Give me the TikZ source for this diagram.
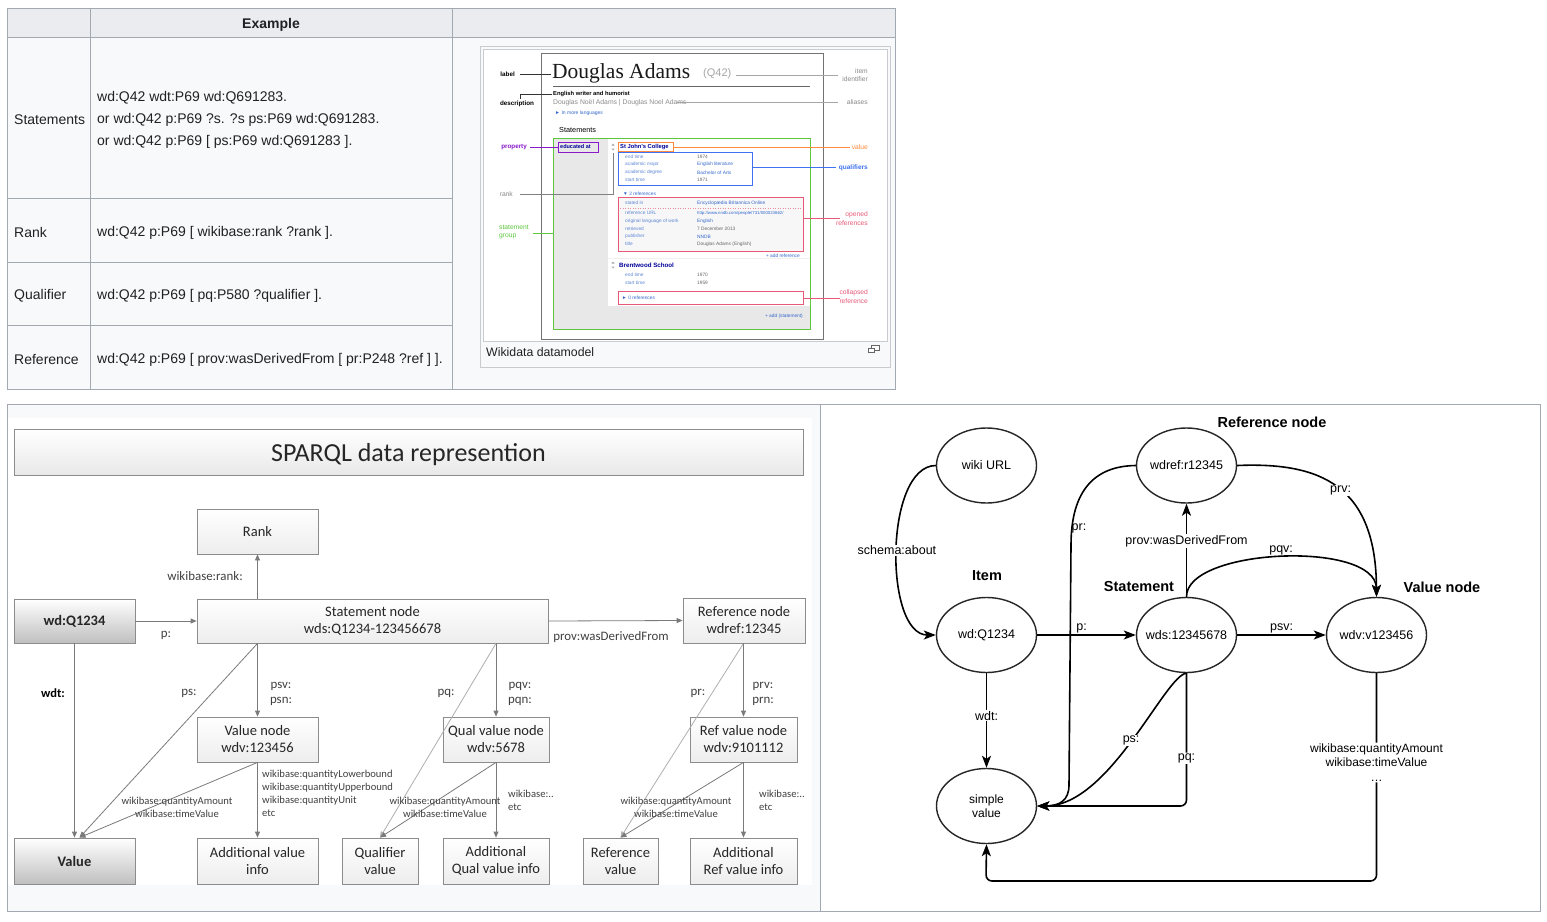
\documentclass[tikz,border=0pt]{standalone}
\usepackage{fontspec}
\setmainfont{Liberation Sans}
\newfontfamily\calibfont{Carlito}
\newfontfamily\dougserif{Liberation Serif}
\usetikzlibrary{shapes.geometric,arrows.meta,calc}
\definecolor{tblborder}{HTML}{A2A9B1}
\definecolor{tblbg}{HTML}{F8F9FA}
\definecolor{tblhead}{HTML}{EAECF0}
\definecolor{txtc}{HTML}{202122}
\definecolor{thumbb}{HTML}{C8CCD1}
\definecolor{wpurple}{HTML}{8A19C9}
\definecolor{worange}{HTML}{FF8A3D}
\definecolor{wblue}{HTML}{3E72F0}
\definecolor{wred}{HTML}{E65A78}
\definecolor{wgreen}{HTML}{5CC63C}
\definecolor{wlink}{HTML}{3366CC}
\definecolor{wgrey}{HTML}{888888}
\definecolor{boxline}{HTML}{8C8C8C}
\definecolor{sline}{HTML}{7A7A7A}
\definecolor{slabc}{HTML}{404040}
\newcommand{\myfs}[2]{\fontsize{#1}{#2}\selectfont}
\tikzset{
  tbltext/.style={anchor=west, text=txtc, font=\myfs{14}{16}, inner sep=0, yshift=-1.5pt},
  thl/.style={anchor=west, inner sep=0, font=\myfs{4.8}{5}},
  thlab/.style={inner sep=0, font=\myfs{6.7}{7}},
  sbox/.style={draw=boxline, line width=0.8pt, top color=white, bottom color=black!7, font=\calibfont\myfs{14.5}{17}, align=center, inner sep=0, text=black!85},
  sboxdark/.style={sbox, top color=white, bottom color=black!25, font=\calibfont\bfseries\myfs{14.5}{17}},
  sarrow/.style={draw=sline, line width=0.8pt, -{Triangle[length=6pt,width=5pt]}},
  slab/.style={font=\calibfont\myfs{12.9}{14}, text=slabc, inner sep=0},
  sslab/.style={font=\calibfont\myfs{10.6}{11}, text=slabc, inner sep=0},
  ell/.style={ellipse, draw=black!85, line width=1.4pt, minimum width=100pt, minimum height=75pt, font=\myfs{12.5}{15}, align=center, inner xsep=-14pt, inner ysep=0pt},
  garrow/.style={draw=black, line width=1.6pt, -{Stealth[length=12pt,width=9pt,inset=3pt]}},
  glab/.style={font=\myfs{12.5}{15}, inner sep=1pt, align=center},
  gbold/.style={font=\bfseries\myfs{14.5}{16}, inner sep=0}
}
\begin{document}
\begin{tikzpicture}[x=1pt,y=-1pt]
\useasboundingbox (0,0) rectangle (1547,921);
\fill[white] (0,0) rectangle (1547,921);

% ================= TABLE =================
\fill[tblbg] (7,8) rectangle (895,389);
\fill[tblhead] (7,8) rectangle (895,37);
\draw[tblborder] (7,8) rectangle (895,389);
\draw[tblborder] (7,37) -- (895,37);
\draw[tblborder] (90,8) -- (90,389);
\draw[tblborder] (452,8) -- (452,389);
\draw[tblborder] (7,198) -- (452,198);
\draw[tblborder] (7,262) -- (452,262);
\draw[tblborder] (7,325) -- (452,325);
\node[tbltext, anchor=center, font=\bfseries\myfs{14}{16}] (thEx) at (271,23) {Example};
\node[tbltext] (rS) at (14,118) {Statements};
\node[tbltext] (rS1) at (97,96) {wd:Q42 wdt:P69 wd:Q691283.};
\node[tbltext] (rS2) at (97,118) {or wd:Q42 p:P69 ?s. ?s ps:P69 wd:Q691283.};
\node[tbltext] (rS3) at (97,140) {or wd:Q42 p:P69 [ ps:P69 wd:Q691283 ].};
\node[tbltext] (rR) at (14,231) {Rank};
\node[tbltext] (rR1) at (97,231) {wd:Q42 p:P69 [ wikibase:rank ?rank ].};
\node[tbltext] (rQ) at (14,294) {Qualifier};
\node[tbltext] (rQ1) at (97,294) {wd:Q42 p:P69 [ pq:P580 ?qualifier ].};
\node[tbltext] (rF) at (14,358) {Reference};
\node[tbltext] (rF1) at (97,358) {wd:Q42 p:P69 [ prov:wasDerivedFrom [ pr:P248 ?ref ] ].};

% ================= THUMBNAIL =================
\filldraw[fill=tblbg, draw=thumbb] (480,46) rectangle (890,367);
\filldraw[fill=white, draw=thumbb] (483,49) rectangle (887,341);
\node[tbltext, font=\myfs{12.3}{14}] (cap) at (486,351) {Wikidata datamodel};
\filldraw[fill=white, draw=black!60, line width=0.7pt] (871,345) rectangle (879,350);
\filldraw[fill=white, draw=black!60, line width=0.7pt] (868,348) rectangle (874,352.5);

\draw[black!55, line width=0.8pt] (541,53) rectangle (823,339);
\fill[black!9] (553,138) rectangle (810,329);
\fill[white] (608,138) rectangle (810,306);
\draw[black!6] (608,258) -- (810,258);
\draw[wgreen, line width=1pt] (553,138) rectangle (810,329);

\node[thlab, font=\bfseries\myfs{6.3}{7}, anchor=east] (tlabel) at (515,74) {label};
\draw[black!80, line width=0.7pt] (520,74) -- (551,74);
\node[thlab, anchor=west, font=\dougserif\myfs{21.5}{22}, text=black!90, yshift=-1.5pt] (tda) at (552,72) {Douglas Adams};
\node[thlab, anchor=west, font=\myfs{11}{12}, text=black!35] (tq42) at (703,73.5) {(Q42)};
\draw[black!35, line width=0.7pt] (736,75) -- (838,75);
\node[thlab, anchor=east, text=wgrey] at (868,71) {item};
\node[thlab, anchor=east, text=wgrey] at (868,79) {identifier};
\draw[black!60, line width=0.6pt] (553,86) -- (810,86);
\node[thlab, font=\bfseries\myfs{6.3}{7}] (tdesc) at (517,104) {description};
\draw[black!80, line width=0.7pt] (520,98.5) -- (520,94.5) -- (552,94.5);
\node[thl, font=\bfseries\myfs{5.8}{6}] at (553,94.5) {English writer and humorist};
\node[thl, font=\myfs{6.8}{7}, text=black!45] at (553,102.5) {Douglas Noël Adams | Douglas Noel Adams};
\draw[black!35, line width=0.7pt] (677,102.3) -- (838,102.3);
\node[thlab, anchor=east, text=wgrey] at (868,102.3) {aliases};
\node[thl, font=\myfs{5}{5}, text=wlink] at (555,113) {► In more languages};
\node[thl, font=\myfs{7.3}{8}] at (559,130) {Statements};

% property
\node[thlab, anchor=east, text=wpurple, font=\bfseries\myfs{6.3}{7}] at (527,147) {property};
\draw[wpurple, line width=0.8pt] (530,147) -- (558,147);
\node[thl, font=\bfseries\myfs{5.5}{6}, text=blue!60!black] at (560,147) {educated at};
\draw[wpurple, line width=1pt] (558,142.5) rectangle (598,152);
% rank markers
\fill[black!35] (611.5,145.5) -- (614.5,145.5) -- (613,143.5) -- cycle;
\fill[black!35] (611.5,148.5) -- (614.5,148.5) -- (613,150.5) -- cycle;
\fill[black!35] (611.5,263.5) -- (614.5,263.5) -- (613,261.5) -- cycle;
\fill[black!35] (611.5,266.5) -- (614.5,266.5) -- (613,268.5) -- cycle;
% value
\node[thl, font=\bfseries\myfs{5.8}{6}, text=blue!60!black] at (620,146.7) {St John's College};
\draw[worange, line width=1pt] (618.5,142) rectangle (673,151.5);
\draw[worange, line width=0.8pt] (673,147) -- (850,147);
\node[thlab, anchor=east, text=worange] at (868,147) {value};
% qualifiers
\draw[wblue, line width=1pt] (618,152.7) rectangle (752,185);
\draw[wblue, line width=1.2pt] (752,167.7) -- (836,167.7);
\node[thlab, anchor=east, text=wblue, font=\bfseries\myfs{6.5}{7}] at (868,168) {qualifiers};
\node[thl, text=wlink!80] at (625,156.5) {end time};
\node[thl, text=black!60] at (697,156.5) {1974};
\node[thl, text=wlink!80] at (625,164.5) {academic major};
\node[thl, text=wlink] at (697,164.5) {English literature};
\node[thl, text=wlink!80] at (625,172.5) {academic degree};
\node[thl, text=wlink] at (697,172.5) {Bachelor of Arts};
\node[thl, text=wlink!80] at (625,179.5) {start time};
\node[thl, text=black!60] at (697,179.5) {1971};
% rank
\node[thlab, anchor=east, text=wgrey] at (513,194) {rank};
\draw[black!50, line width=0.7pt] (520,194) -- (613,194) -- (613,153);
\node[thl, text=wlink] at (623,194) {▼ 2 references};
% opened references
\filldraw[fill=black!3, draw=wred, line width=1pt] (618,197.7) rectangle (803,251.7);
\draw[wred, line width=0.8pt] (803,218.7) -- (840,218.7);
\node[thlab, anchor=east, text=wred] at (868,215) {opened};
\node[thlab, anchor=east, text=wred] at (868,223) {references};
\draw[wred!70, dotted, line width=0.5pt] (620,208) -- (801,208);
\node[thl, text=wlink!80] at (625,203) {stated in};
\node[thl, text=wlink] at (697,203) {Encyclopædia Britannica Online};
\node[thl, text=wlink!80] at (625,213) {reference URL};
\node[thl, text=wlink, font=\myfs{4.3}{5}] at (697,213) {http://www.nndb.com/people/731/000023662/};
\node[thl, text=wlink!80] at (625,221) {original language of work};
\node[thl, text=wlink] at (697,221) {English};
\node[thl, text=wlink!80] at (625,229) {retrieved};
\node[thl, text=black!60] at (697,229) {7 December 2013};
\node[thl, text=wlink!80] at (625,236.5) {publisher};
\node[thl, text=wlink] at (697,236.5) {NNDB};
\node[thl, text=wlink!80] at (625,244) {title};
\node[thl, text=black!60] at (697,244) {Douglas Adams (English)};
\node[thl, anchor=east, text=wlink] at (800,256) {+ add reference};
% second statement
\node[thl, font=\bfseries\myfs{6.2}{7}, text=blue!60!black] at (619,265) {Brentwood School};
\node[thl, text=wlink!80] at (625,275) {end time};
\node[thl, text=black!60] at (697,275) {1970};
\node[thl, text=wlink!80] at (625,283) {start time};
\node[thl, text=black!60] at (697,283) {1959};
\draw[wred, line width=1pt] (618,291.7) rectangle (803,304.3);
\draw[wred, line width=0.8pt] (803,298) -- (840,298);
\node[thlab, anchor=east, text=wred] at (868,293) {collapsed};
\node[thlab, anchor=east, text=wred] at (868,301) {reference};
\node[thl, text=wlink] at (622,298) {► 0 references};
\node[thl, anchor=east, text=wlink] at (803,316) {+ add (statement)};
% statement group
\node[thlab, anchor=west, text=wgreen] at (499,227) {statement};
\node[thlab, anchor=west, text=wgreen] at (499,236) {group};
\draw[wgreen, line width=0.8pt] (533,233.7) -- (553,233.7);

% ================= BOTTOM PANEL =================
\fill[tblbg] (7,404) rectangle (1540,911);
\fill[white] (820,404) rectangle (1540,911);
\fill[white] (8,418) rectangle (812,885);
\draw[tblborder] (7,404) rectangle (1540,911);
\draw[tblborder] (820,404) -- (820,911);

% ---- SPARQL diagram ----
\node[sbox, top color=white, bottom color=black!9, minimum width=789pt, minimum height=46pt, font=\calibfont\myfs{26}{28}, text depth=0pt] (title) at (408.5,452) {SPARQL data represention};

\node[sbox, minimum width=121pt, minimum height=45pt] (rank) at (257.5,531.5) {Rank};
\node[sboxdark, minimum width=121pt, minimum height=44pt] (q1234) at (74.5,621) {wd:Q1234};
\node[sbox, minimum width=351pt, minimum height=44pt] (stmt) at (372.5,621) {Statement node\\wds:Q1234-123456678};
\node[sbox, minimum width=122pt, minimum height=45pt] (refn) at (744,620.5) {Reference node\\wdref:12345};
\node[sbox, minimum width=121pt, minimum height=45pt] (valn) at (257.5,739.5) {Value node\\wdv:123456};
\node[sbox, minimum width=106pt, minimum height=45pt] (qualn) at (496,739.5) {Qual value node\\wdv:5678};
\node[sbox, minimum width=107pt, minimum height=45pt] (refvn) at (743.5,739.5) {Ref value node\\wdv:9101112};
\node[sboxdark, minimum width=121pt, minimum height=46pt] (value) at (74.5,861) {Value};
\node[sbox, minimum width=121pt, minimum height=46pt] (addv) at (257.5,861) {Additional value\\info};
\node[sbox, minimum width=76pt, minimum height=46pt] (qualv) at (380,861) {Qualifier\\value};
\node[sbox, minimum width=106pt, minimum height=46pt] (addq) at (496,861) {Additional\\Qual value info};
\node[sbox, minimum width=75pt, minimum height=46pt] (refv) at (620.5,861) {Reference\\value};
\node[sbox, minimum width=107pt, minimum height=46pt] (addr) at (743.5,861) {Additional\\Ref value info};

\draw[sarrow] (q1234.east) -- (stmt.west);
\draw[sarrow] (stmt.north -| rank.south) -- (rank.south);
\draw[sarrow] (stmt.east) -- (refn.west);
\draw[sarrow] (q1234.south) -- (value.north);
\draw[sarrow] (stmt.south -| valn.north) -- ($(value.north)+(5,0)$);
\draw[sarrow] (stmt.south -| valn.north) -- (valn.north);
\draw[sarrow] (valn.south) -- ($(value.north)+(5,0)$);
\draw[sarrow] (valn.south) -- (addv.north);
\draw[sarrow, draw=sline!60] (stmt.south -| qualn.north) -- (qualv.north);
\draw[sarrow] (stmt.south -| qualn.north) -- (qualn.north);
\draw[sarrow] (qualn.south) -- (qualv.north);
\draw[sarrow] (qualn.south) -- (addq.north);
\draw[sarrow, draw=sline!60] (refn.south -| refvn.north) -- (refv.north);
\draw[sarrow] (refn.south -| refvn.north) -- (refvn.north);
\draw[sarrow] (refvn.south) -- (refv.north);
\draw[sarrow] (refvn.south) -- (addr.north);

\node[slab] at (166,635) {p:};
\node[slab] at (205,576) {wikibase:rank:};
\node[slab] at (611,637) {prov:wasDerivedFrom};
\node[slab, font=\calibfont\bfseries\myfs{12.5}{13}, text=black] at (53,693) {wdt:};
\node[slab] at (189,693) {ps:};
\node[slab] at (281,686) {psv:};
\node[slab] at (281,701) {psn:};
\node[slab] at (446,693) {pq:};
\node[slab] at (520,686) {pqv:};
\node[slab] at (520,701) {pqn:};
\node[slab] at (698,693) {pr:};
\node[slab] at (763,686) {prv:};
\node[slab] at (763,701) {prn:};
\node[sslab] at (177,802) {wikibase:quantityAmount};
\node[sslab] at (177,814) {wikibase:timeValue};
\node[sslab, anchor=west] at (262,775) {wikibase:quantityLowerbound};
\node[sslab, anchor=west] at (262,788) {wikibase:quantityUpperbound};
\node[sslab, anchor=west] at (262,801) {wikibase:quantityUnit};
\node[sslab, anchor=west] at (262,813) {etc};
\node[sslab] at (445,802) {wikibase:quantityAmount};
\node[sslab] at (445,814) {wikibase:timeValue};
\node[sslab, anchor=west] at (508,794) {wikibase:..};
\node[sslab, anchor=west] at (508,807) {etc};
\node[sslab] at (676,802) {wikibase:quantityAmount};
\node[sslab] at (676,814) {wikibase:timeValue};
\node[sslab, anchor=west] at (759,794) {wikibase:..};
\node[sslab, anchor=west] at (759,807) {etc};

% ---- RDF graph ----
\node[ell] (wikiurl) at (986.5,465.5) {wiki URL};
\node[ell] (wdref) at (1186.5,465.5) {wdref:r12345};
\node[ell] (wdq) at (986.5,635) {wd:Q1234};
\node[ell] (wds) at (1186.5,635) {wds:12345678};
\node[ell] (wdv) at (1376.5,635) {wdv:v123456};
\node[ell, font=\myfs{12}{14}] (simple) at (986.5,806) {simple\\value};
\coordinate (bot) at (986,881);

\draw[garrow] (wdq.east) -- node[glab, above, pos=0.45] {p:} (wds.west);
\draw[garrow] (wds.east) -- node[glab, above] {psv:} (wdv.west);
\draw[garrow] (wds.north) -- node[glab, fill=white, pos=0.6] {prov:wasDerivedFrom} (wdref.south);
\draw[garrow] (wds.north) .. controls (1186,548) and (1376,540) .. node[glab, above, pos=0.5] {pqv:} (wdv.north);
\draw[garrow] (wdref.east) .. controls (1320,462) and (1376,485) .. node[glab, fill=white, pos=0.52] {prv:} (wdv.north);
\draw[garrow] (wikiurl.west) .. controls (884,466) and (884,635) .. node[glab, fill=white] {schema:about} (wdq.west);
\draw[garrow] (wdq.south) -- node[glab, fill=white, pos=0.45] {wdt:} (simple.north);
\draw[garrow] (wdref.west) .. controls (1095,466) and (1071,490) .. (1071,545) -- (1069,785) .. controls (1069,800) and (1060,806) .. (simple.east);
\node[glab] at (1079,528) {pr:};
\draw[garrow] (wds.south) .. controls (1165,675) and (1110,806) .. node[glab, fill=white, pos=0.5] {ps:} (simple.east);
\draw[garrow, rounded corners=6pt] (wds.south) -- node[glab, fill=white, pos=0.64] {pq:} (wds.south |- simple.east) -- (simple.east);
\draw[garrow, rounded corners=6pt] (wdv.south) -- node[glab, fill=white, pos=0.43, font=\myfs{12}{14.5}] {wikibase:quantityAmount\\wikibase:timeValue\\\dots} (wdv.south |- bot) -- (bot) -- (simple.south);

\node[gbold] at (987,576) {Item};
\node[gbold] at (1272,422) {Reference node};
\node[gbold] at (1139,586) {Statement};
\node[gbold] at (1442,587) {Value node};
\end{tikzpicture}
\end{document}
